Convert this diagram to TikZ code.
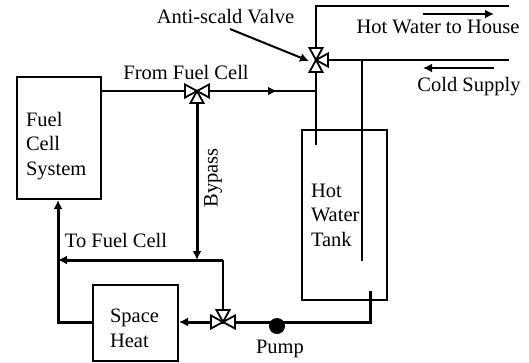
\documentclass[tikz,border=0pt]{standalone}
\usepackage{fontspec}
\setmainfont{Liberation Serif}
\usetikzlibrary{positioning,arrows.meta}

\tikzset{
 >={Latex[length=9pt,width=9pt]},
 box/.style={rectangle,draw,line width=2pt,align=left,anchor=north west,inner ysep=0pt},
 tag/.style={inner sep=0pt},
 pipe/.style={line width=2pt},
 mainpipe/.style={line width=3pt},
 valvepart/.style={draw,fill=white,line width=1.8pt,line join=miter}
}
% one triangle of a valve per angle
\newcommand{\valve}[2]{
 \foreach \ang in {#2} {
  \path[valvepart,shift={(#1)},rotate=\ang] (0,0) -- (12,-6.5) -- (12,6.5) -- cycle;
 }
}

\begin{document}
\begin{tikzpicture}[x=1pt,y=-1pt,font=\fontsize{20.5}{24.5}\selectfont]
 \useasboundingbox (0,0) rectangle (529,362);

 \node[box,text width=66pt,inner xsep=9pt,minimum height=122pt] (fuelcell) at (16,76) {\rule{0pt}{30pt}Fuel\\Cell\\System};
 \node[box,text width=51pt,inner xsep=17pt,minimum height=76pt] (spaceheat) at (92,284) {\rule{0pt}{24pt}Space\\Heat};
 \node[box,text width=67pt,inner xsep=9pt,minimum height=170pt] (tank) at (301,129) {Hot\\Water\\Tank};
 \node[circle,fill,inner sep=0pt,minimum size=16pt] (pump) at (277,326) {};

 \coordinate (fromvalve) at (197,91);
 \coordinate (bypassvalve) at (223,322);
 \coordinate (scaldvalve) at (316,60);
 \coordinate (bypassjoin) at (197,260);
 \coordinate (returncorner) at (223,260);
 \coordinate (returnleft) at (58,260);
 \coordinate (heatleft) at (58,322);
 \coordinate (pumpright) at (370,322);
 \coordinate (tankout) at (370,291);
 \coordinate (feedjoin) at (316,91);
 \coordinate (tankhot) at (316,145);
 \coordinate (hotcorner) at (316,6);
 \coordinate (hotend) at (509,6);
 \coordinate (coldend) at (509,60);
 \coordinate (coldtee) at (362,60);
 \coordinate (tankcold) at (362,261);
 \coordinate (flowA) at (255,91);
 \coordinate (flowB) at (277,91);
 \coordinate (hotA) at (423,14);
 \coordinate (hotB) at (494,14);
 \coordinate (coldA) at (494,68);
 \coordinate (coldB) at (423,68);
 \coordinate (scaldtail) at (230,29);
 \coordinate (scaldtip) at (309,61);

 \node[tag] (antiscald) at (225.5,17) {Anti-scald Valve};
 \node[tag] (fromlabel) at (186,72) {From Fuel Cell};
 \node[tag] (tolabel) at (116,240) {To Fuel Cell};
 \node[tag,rotate=90] (bypasslabel) at (213,178) {Bypass};
 \node[tag] (pumplabel) at (280,349) {Pump};
 \node[tag] (hotlabel) at (438,27) {Hot Water to House};
 \node[tag] (coldlabel) at (469,87) {Cold Supply};

\path[draw,pipe] (fuelcell.east |- fromvalve) edge (fromvalve);
\path[draw,pipe] (fromvalve) edge (feedjoin);
\path[draw,pipe] (flowA) edge [->] (flowB);
\path[draw,pipe] (scaldvalve) edge (tankhot);
\path[draw,pipe] (scaldvalve) -- (hotcorner) -- (hotend);
\path[draw,pipe] (scaldvalve) edge (coldend);
\path[draw,pipe] (coldtee) edge (tankcold);
\path[draw,mainpipe] (fromvalve) edge [->] (bypassjoin);
\path[draw,pipe] (bypassvalve) -- (returncorner);
\path[draw,mainpipe,->] (returncorner) -- (returnleft);
\path[draw,mainpipe] (spaceheat.west |- heatleft) -- (heatleft) -- (returnleft);
\path[draw,mainpipe,->] (returnleft) -- (fuelcell.south -| returnleft);
\path[draw,mainpipe,->] (bypassvalve) -- (spaceheat.east |- bypassvalve);
\path[draw,mainpipe] (bypassvalve) -- (pumpright) -- (tankout);
\path[draw,pipe] (hotA) edge [->] (hotB);
\path[draw,pipe] (coldA) edge [->] (coldB);
\path[draw,pipe] (scaldtail) edge [->] (scaldtip);

\valve{fromvalve}{0,180,270}
\valve{bypassvalve}{0,180,90}
\valve{scaldvalve}{0,90,270}
\end{tikzpicture}
\end{document}
